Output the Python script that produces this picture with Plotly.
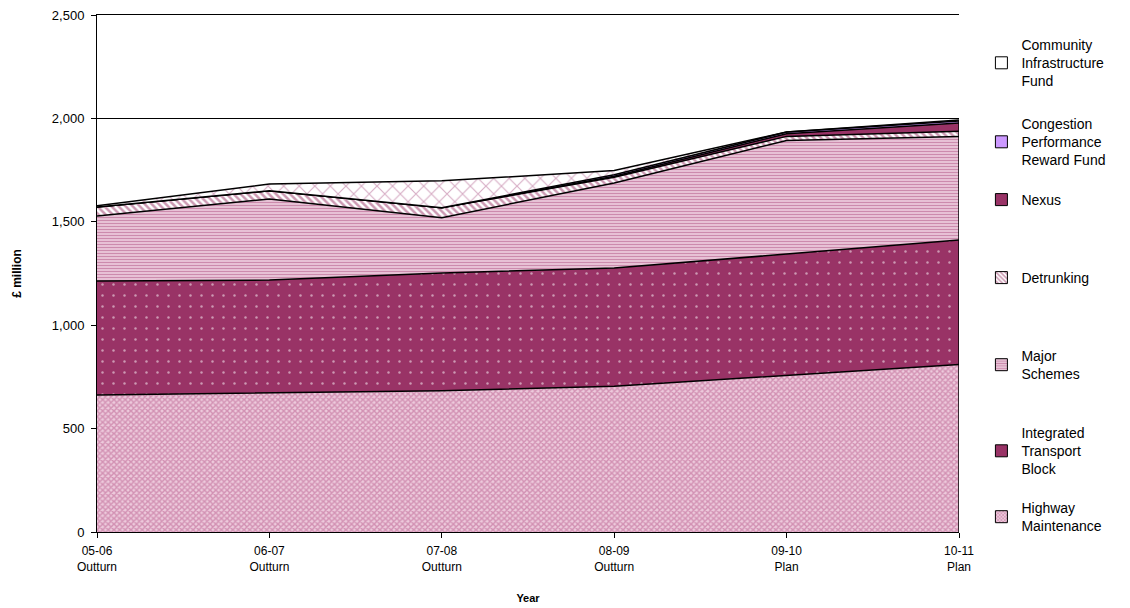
import plotly.graph_objects as go

years = ["05-06<br>Outturn", "06-07<br>Outturn", "07-08<br>Outturn", "08-09<br>Outturn", "09-10<br>Plan", "10-11<br>Plan"]
x_idx = [0, 1, 2, 3, 4, 5]

highway_maintenance = [662, 672, 683, 705, 757, 810]
integrated_transport = [552, 546, 569, 572, 587, 602]
major_schemes = [314, 392, 268, 411, 549, 501]
detrunking = [44, 40, 48, 27, 20, 25]
nexus = [0, 0, 0, 5, 13, 40]
congestion = [0, 0, 0, 8, 8, 10]
community = [6, 33, 130, 20, 0, 4]
y_ticks = [0, 500, 1000, 1500, 2000, 2500]

series = [
    ("Highway<br>Maintenance", highway_maintenance, dict(shape="x", fgcolor="#B8588A", bgcolor="#EDCADC", size=4, solidity=0.6)),
    ("Integrated<br>Transport<br>Block", integrated_transport, dict(shape=".", fgcolor="#FFFFFF", bgcolor="#993366", size=11, solidity=0.04)),
    ("Major<br>Schemes", major_schemes, dict(shape="-", fgcolor="#A8447A", bgcolor="#F0D2E1", size=3, solidity=0.5)),
    ("Detrunking", detrunking, dict(shape="\\", fgcolor="#993366", bgcolor="#FFFFFF", size=5, solidity=0.5)),
    ("Nexus", nexus, dict(shape="", fgcolor="#993366", bgcolor="#993366")),
    ("Congestion<br>Performance<br>Reward Fund", congestion, dict(shape="", fgcolor="#CC99FF", bgcolor="#CC99FF")),
    ("Community<br>Infrastructure<br>Fund", community, dict(shape="x", fgcolor="#B05C8C", bgcolor="#FFFFFF", size=11, solidity=0.2)),
]
# legend swatch styles (small squares)
legend_swatch = [
    dict(color="#DCA2C0", pattern=dict(shape="x", fgcolor="#B8588A", bgcolor="#EDCADC", size=3, solidity=0.5)),
    dict(color="#993366"),
    dict(color="#D898B8", pattern=dict(shape="-", fgcolor="#A8447A", bgcolor="#F0D2E1", size=3, solidity=0.5)),
    dict(color="#FFFFFF", pattern=dict(shape="\\", fgcolor="#993366", bgcolor="#FFFFFF", size=4, solidity=0.5)),
    dict(color="#993366"),
    dict(color="#CC99FF"),
    dict(color="#FFFFFF"),
]

legend_first_line_px = [508, 433, 356, 278, 200, 124, 45]

fig = go.Figure()
for i, (name, vals, pat) in enumerate(series):
    kw = {"fillcolor": pat["bgcolor"]}
    if pat["shape"] != "":
        kw["fillpattern"] = pat
    fig.add_trace(go.Scatter(
        x=x_idx, y=vals, name=name, mode="lines", stackgroup="one",
        line=dict(color="black", width=1.5), showlegend=False, **kw))

for i, (name, vals, pat) in enumerate(series):
    lg = "legend" if i == 0 else f"legend{i+1}"
    marker = dict(legend_swatch[i])
    marker["line"] = dict(color="black", width=1)
    fig.add_trace(go.Bar(x=[None], y=[None], name=name, marker=marker, legend=lg, showlegend=True))

totals = [sum(v) for v in zip(*[s[1] for s in series])]
fig.add_trace(go.Scatter(x=[x_idx[-1], x_idx[-1]], y=[0, totals[-1]], mode="lines",
                         line=dict(color="black", width=1.5), showlegend=False, hoverinfo="skip"))

base = "Liberation Sans, Arial, sans-serif"
font = dict(family=base, size=12, color="black")
legend_font = dict(family=base, size=14, color="black")
layout_legends = {}
for i, py in enumerate(legend_first_line_px):
    key = "legend" if i == 0 else f"legend{i+1}"
    ypaper = (532 - (py - 16)) / 517
    layout_legends[key] = dict(x=1.026, xanchor="left", y=ypaper, yanchor="top",
                               bgcolor="rgba(0,0,0,0)", font=legend_font, itemwidth=30)

# page body has an 8px margin, so the figure is sized to fit inside the window
fig.update_layout(
    width=1122, height=600,
    margin=dict(l=89, r=171, t=7, b=76),
    paper_bgcolor="white", plot_bgcolor="white",
    font=font,
    xaxis=dict(type="linear", range=[0, 5], tickvals=x_idx, ticktext=years, showline=True, linecolor="black",
               linewidth=1, ticks="outside", ticklen=5, tickcolor="black", showgrid=False, mirror=True,
               zeroline=False, automargin=False, ticklabelstandoff=3,
               tickfont=dict(family=base, size=12),
               title=dict(text="<b>Year</b>", font=dict(family=base, size=11), standoff=21)),
    yaxis=dict(range=[0, 2500], tickvals=y_ticks, tickformat=",",
               showline=True, linecolor="black", ticklabeloverflow="allow",
               linewidth=1, ticks="outside", ticklen=5, tickcolor="black", showgrid=True,
               gridcolor="black", gridwidth=1, zeroline=False, automargin=False, ticklabelstandoff=4,
               tickfont=dict(family=base, size=13),
               title=dict(text="<b>£ million</b>", font=dict(family=base, size=12), standoff=27)),
    hovermode=False,
    **layout_legends,
)

fig.write_html("out.html")
